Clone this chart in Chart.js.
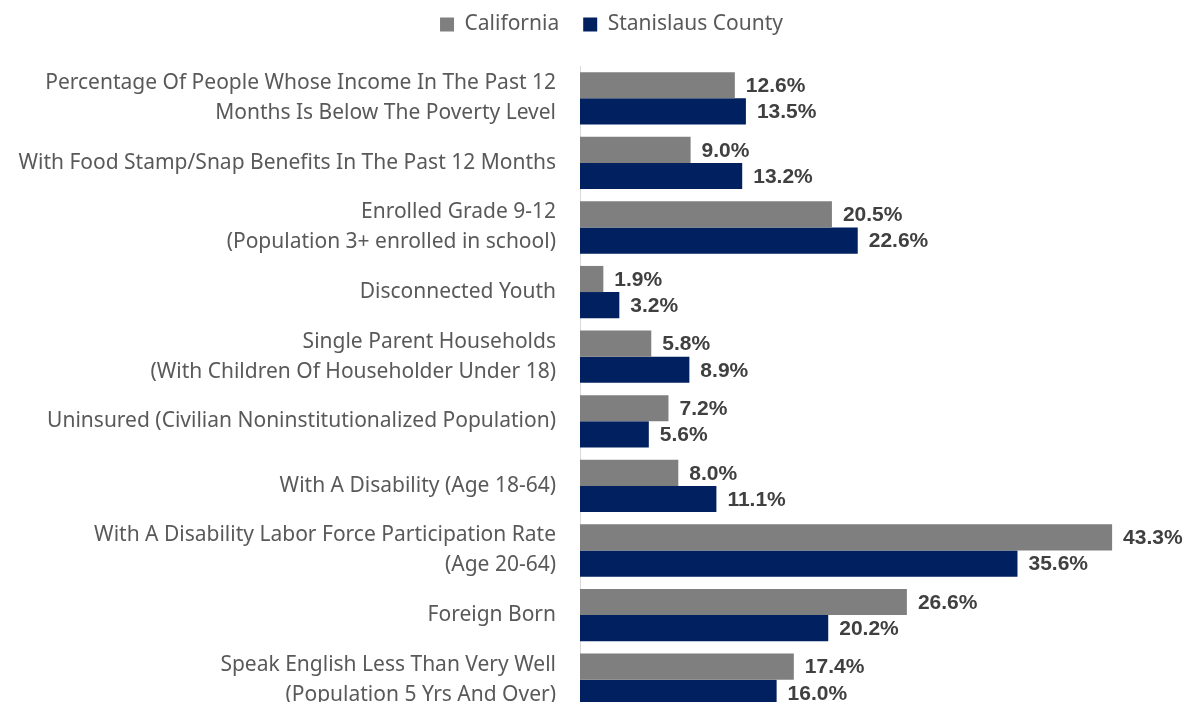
<!DOCTYPE html>
<html>
<head>
<meta charset="utf-8">
<script src="https://cdn.jsdelivr.net/npm/chart.js@4.4.1/dist/chart.umd.min.js"></script>
<style>
  html, body { margin: 0; padding: 0; background: #fff; overflow: hidden; }
  #wrap { width: 1189px; height: 712px; position: relative; }
</style>
</head>
<body>
<div id="wrap"><canvas id="chart"></canvas></div>
<script>
var categories = [
  ["Percentage Of People Whose Income In The Past 12", "Months Is Below The Poverty Level"],
  "With Food Stamp/Snap Benefits In The Past 12 Months",
  ["Enrolled Grade 9-12", "(Population 3+ enrolled in school)"],
  "Disconnected Youth",
  ["Single Parent Households", "(With Children Of Householder Under 18)"],
  "Uninsured (Civilian Noninstitutionalized Population)",
  "With A Disability (Age 18-64)",
  ["With A Disability Labor Force Participation Rate", "(Age 20-64)"],
  "Foreign Born",
  ["Speak English Less Than Very Well", "(Population 5 Yrs And Over)"]
];
var california = [12.6, 9.0, 20.5, 1.9, 5.8, 7.2, 8.0, 43.3, 26.6, 17.4];
var stanislaus = [13.5, 13.2, 22.6, 3.2, 8.9, 5.6, 11.1, 35.6, 20.2, 16.0];

var valueLabels = {
  id: 'valueLabels',
  afterDatasetsDraw: function(chart) {
    var ctx = chart.ctx;
    ctx.save();
    ctx.font = 'bold 21px "Liberation Sans", Arial, sans-serif';
    ctx.fillStyle = '#404040';
    ctx.textAlign = 'left';
    ctx.textBaseline = 'middle';
    chart.data.datasets.forEach(function(ds, i) {
      chart.getDatasetMeta(i).data.forEach(function(bar, j) {
        ctx.fillText(ds.data[j].toFixed(1) + '%', bar.x + 11, bar.y + 1);
      });
    });
    ctx.restore();
  }
};

var legendTweak = {
  id: 'legendTweak',
  beforeInit: function(chart) {
    var fit = chart.legend.fit;
    chart.legend.fit = function() {
      fit.bind(chart.legend)();
      this.height = 66;
    };
  },
  afterLayout: function(chart) {
    chart.legend.left += 45;
    chart.legend.right += 45;
    chart.legend.top -= 10;
  }
};

new Chart(document.getElementById('chart'), {
  type: 'bar',
  data: {
    labels: categories,
    datasets: [
      { label: 'California', data: california, backgroundColor: '#7f7f7f' },
      { label: 'Stanislaus County', data: stanislaus, backgroundColor: '#002060' }
    ]
  },
  options: {
    indexAxis: 'y',
    responsive: true,
    maintainAspectRatio: false,
    animation: false,
    datasets: { bar: { categoryPercentage: 0.81, barPercentage: 1.0 } },
    layout: { padding: { left: 0, right: 56, top: 0, bottom: 0 } },
    plugins: {
      legend: {
        position: 'top',
        labels: {
          color: '#595959',
          font: { family: '"Noto Sans", sans-serif', size: 21 },
          boxWidth: 14,
          boxHeight: 14,
          padding: 24
        }
      },
      tooltip: { enabled: false }
    },
    scales: {
      x: {
        display: false,
        min: 0,
        max: 45
      },
      y: {
        afterFit: function(s) {
          s.width = 580;
          s.paddingTop = 0;
          s.paddingBottom = 0;
        },
        grid: { display: false, drawTicks: false },
        border: { display: true, color: '#d9d9d9', width: 1 },
        ticks: {
          color: '#595959',
          padding: 24,
          font: { family: '"Noto Sans", sans-serif', size: 21, lineHeight: 1.43 }
        }
      }
    }
  },
  plugins: [valueLabels, legendTweak]
});
</script>
</body>
</html>
